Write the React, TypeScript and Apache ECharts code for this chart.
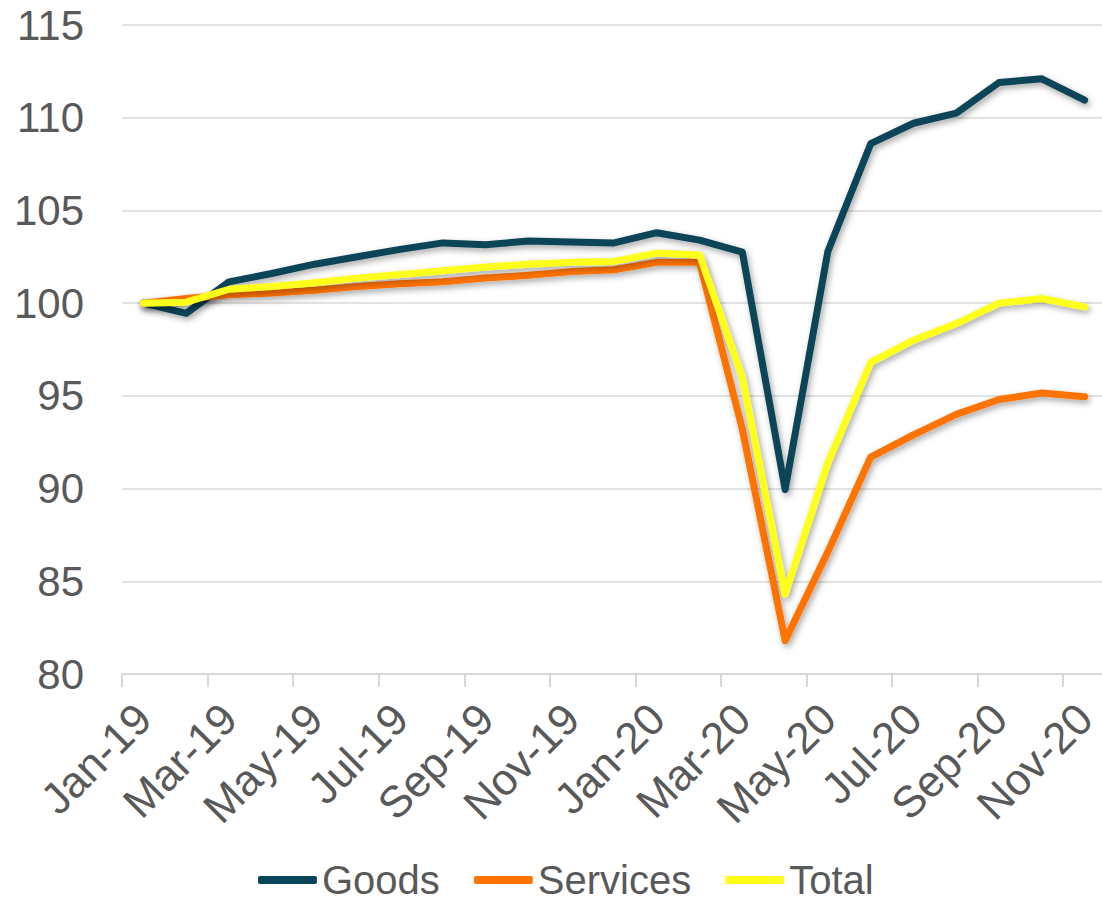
import React, { useEffect, useRef } from "react";
import * as echarts from "echarts";

const categories = [
  "Jan-19", "Feb-19", "Mar-19", "Apr-19", "May-19", "Jun-19", "Jul-19", "Aug-19",
  "Sep-19", "Oct-19", "Nov-19", "Dec-19", "Jan-20", "Feb-20", "Mar-20", "Apr-20",
  "May-20", "Jun-20", "Jul-20", "Aug-20", "Sep-20", "Oct-20", "Nov-20",
];

const goods = [
  100.0, 99.45, 101.15, 101.6, 102.1, 102.5, 102.9, 103.25, 103.15, 103.35, 103.3, 103.25,
  103.8, 103.4, 102.75, 89.95, 102.8, 108.6, 109.7, 110.25, 111.9, 112.1, 110.95,
];
const services = [
  100.0, 100.25, 100.45, 100.55, 100.7, 100.9, 101.05, 101.15, 101.35, 101.5, 101.7, 101.8,
  102.2, 102.2, 93.2, 81.8, 86.6, 91.7, 92.9, 94.0, 94.8, 95.15, 94.95,
];
const total = [
  100.0, 100.05, 100.75, 100.9, 101.1, 101.35, 101.55, 101.75, 101.95, 102.1, 102.2, 102.25,
  102.7, 102.6, 96.0, 84.3, 91.4, 96.8, 98.0, 98.9, 100.0, 100.25, 99.8,
];

const seriesNames = ["Goods", "Services", "Total"];
const seriesColors = ["#0B4558", "#FF7300", "#FFFF1A"];
const yTicks = { min: 80, max: 115, interval: 5 };

export default function App() {
  const ref = useRef<HTMLDivElement>(null);
  useEffect(() => {
    if (!ref.current) return;
    const chart = echarts.init(ref.current, null, { renderer: "svg" });
    const font = "'Liberation Sans', Arial, sans-serif";
    const dataSets = [goods, services, total];
    chart.setOption({
      animation: false,
      backgroundColor: "#ffffff",
      textStyle: { fontFamily: font },
      grid: {
        left: 122,
        right: -4,
        top: 25,
        bottom: 230,
        containLabel: false,
        outerBoundsMode: "none",
      },
      legend: {
        data: seriesNames,
        left: 258,
        top: 860,
        padding: 0,
        icon: "roundRect",
        itemWidth: 59,
        itemHeight: 8,
        itemGap: 34,
        textStyle: { fontSize: 40, lineHeight: 40, color: "#595959", fontFamily: font },
      },
      xAxis: {
        type: "category",
        data: categories,
        boundaryGap: true,
        axisLine: { show: true, lineStyle: { color: "#d9d9d9", width: 2 } },
        axisTick: { show: true, interval: 1, length: 13, lineStyle: { color: "#d9d9d9", width: 2 } },
        axisLabel: {
          interval: 1,
          rotate: 45,
          margin: 37,
          fontSize: 44,
          color: "#595959",
          fontFamily: font,
          hideOverlap: false,
        },
        splitLine: { show: false },
      },
      yAxis: {
        type: "value",
        min: yTicks.min,
        max: yTicks.max,
        interval: yTicks.interval,
        axisLine: { show: false },
        axisTick: { show: false },
        axisLabel: { margin: 38, fontSize: 42, color: "#595959", fontFamily: font },
        splitLine: { lineStyle: { color: "#d9d9d9", width: 1.5 } },
      },
      series: seriesNames.map((name, i) => ({
        name,
        type: "line",
        data: dataSets[i],
        symbol: "none",
        showSymbol: false,
        color: seriesColors[i],
        lineStyle: {
          width: 7,
          color: seriesColors[i],
          cap: "round",
          join: "round",
          shadowColor: "rgba(0,0,0,0.35)",
          shadowBlur: 6,
          shadowOffsetX: 2,
          shadowOffsetY: 3,
        },
        z: 2 + i,
      })),
    });
    return () => chart.dispose();
  }, []);
  return (
    <div
      ref={ref}
      style={{ position: "fixed", left: 0, top: 0, width: 1102, height: 904 }}
    />
  );
}
